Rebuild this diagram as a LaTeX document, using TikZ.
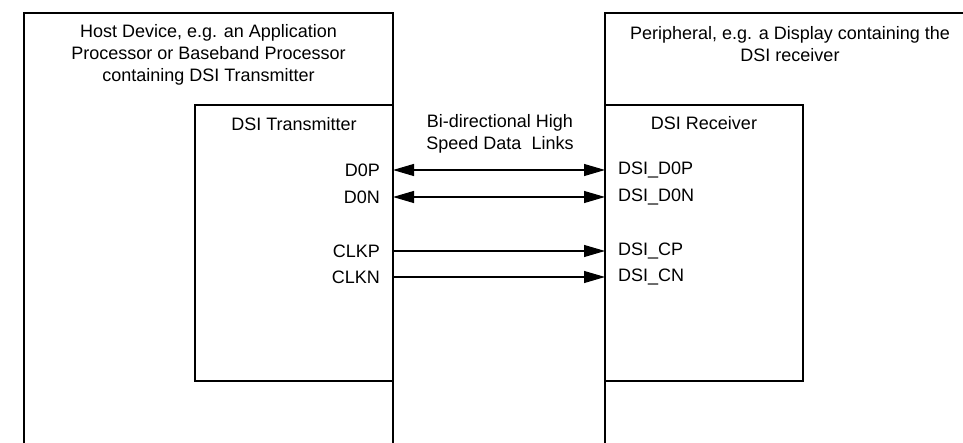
\documentclass[tikz,border=0pt]{standalone}
\usepackage{fontspec}
\setmainfont{Liberation Sans}
\usetikzlibrary{arrows.meta}

\begin{document}
\begin{tikzpicture}[x=1pt, y=-1pt, font=\fontsize{18}{22}\selectfont,
    frame/.style={draw, line width=1.5pt},
    unit/.style={draw, line width=1.5pt, outer sep=0pt, inner sep=0pt, anchor=north west, minimum width=198pt, minimum height=276pt},
    pin/.style={inner sep=0pt},
    link/.style={line width=1.1pt, -{Triangle[length=21pt, width=12pt]}},
    bilink/.style={line width=1.1pt, {Triangle[length=21pt, width=12pt]}-{Triangle[length=21pt, width=12pt]}}]
  \useasboundingbox (0,0) rectangle (963,443);

  % host and peripheral, open at the bottom
  \draw[frame] (24,443) |- (393,13) -- (393,443);
  \draw[frame] (963,13) -| (605,443);
  \node[align=center] (host) at (208.5,55) {Host Device, e.g. an Application\\Processor or Baseband Processor\\containing DSI Transmitter};
  \node[align=center] (periph) at (790,44) {Peripheral, e.g. a Display containing the\\DSI receiver};

  \node[unit] (tx) at (195,105) {};
  \node[unit] (rx) at (605,105) {};
  \node (txname) at (294,124) {DSI Transmitter};
  \node (rxname) at (704,123) {DSI Receiver};
  \node[align=center] (links) at (500,134) {Bi-directional High\\Speed Data~~Links};

  \node[pin, anchor=east] (d0p) at (380,170) {D0P};
  \node[pin, anchor=east] (d0n) at (380,197) {D0N};
  \node[pin, anchor=east] (clkp) at (380,251) {CLKP};
  \node[pin, anchor=east] (clkn) at (380,277) {CLKN};
  \node[pin, anchor=west] (rd0p) at (618,170) {DSI\_D0P};
  \node[pin, anchor=west] (rd0n) at (618,197) {DSI\_D0N};
  \node[pin, anchor=west] (rcp) at (618,251) {DSI\_CP};
  \node[pin, anchor=west] (rcn) at (618,277) {DSI\_CN};

  \draw[bilink] (tx.east |- d0p) -- (rx.west |- rd0p);
  \draw[bilink] (tx.east |- d0n) -- (rx.west |- rd0n);
  \draw[link] (tx.east |- clkp) -- (rx.west |- rcp);
  \draw[link] (tx.east |- clkn) -- (rx.west |- rcn);
\end{tikzpicture}
\end{document}
